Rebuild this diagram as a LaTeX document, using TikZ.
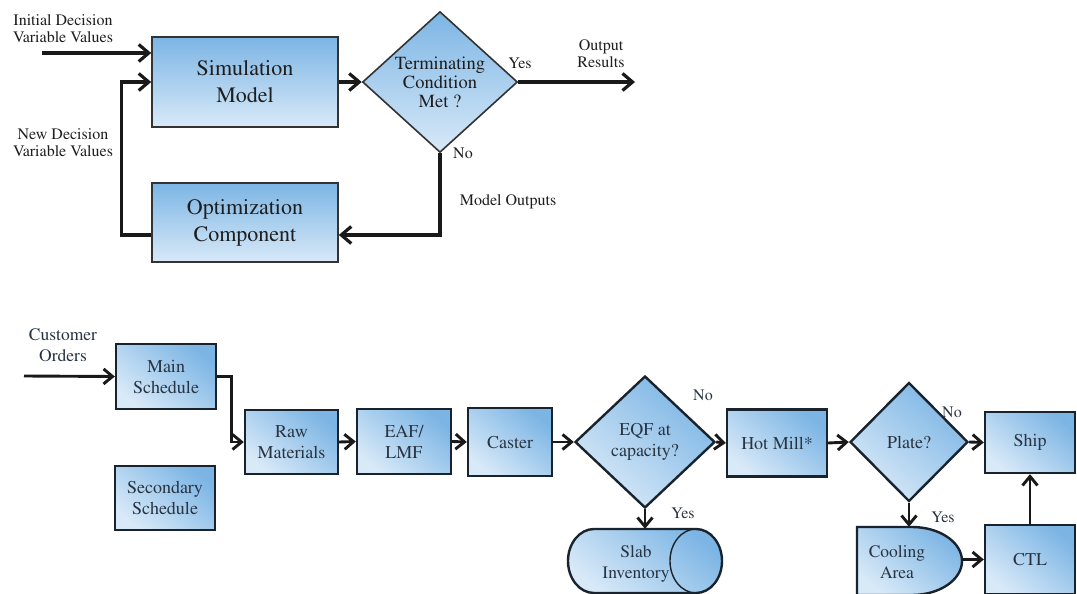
\documentclass[tikz,border=0pt]{standalone}
\usepackage[T1]{fontenc}
\usepackage{mathptmx}
\usetikzlibrary{arrows.meta,shapes.geometric}
\definecolor{btop}{RGB}{124,181,228}
\definecolor{bbot}{RGB}{216,233,248}
\definecolor{txtA}{RGB}{30,30,30}
\definecolor{txtB}{RGB}{40,52,66}
\definecolor{edgeB}{RGB}{25,35,45}
\tikzset{
  arr/.style={draw=black!90, line width=3.2pt, -{Straight Barb[length=10pt,width=17pt]}},
  barr/.style={draw=black!90, line width=2.9pt, -{Straight Barb[length=9pt,width=15pt]}},
  topbox/.style={draw=black!80, line width=1.6pt, top color=btop, bottom color=bbot, minimum width=186pt, minimum height=90pt, align=center, text=txtA, font=\rmfamily\fontsize{22}{27}\selectfont},
  topdia/.style={diamond, draw=black!80, line width=1.6pt, top color=btop, bottom color=bbot, minimum width=155pt, minimum height=122pt, inner sep=0pt, align=center, text=txtA, font=\rmfamily\fontsize{18.5}{19}\selectfont},
  toplab/.style={align=center, text=txtA, font=\rmfamily\fontsize{16}{17}\selectfont},
  botbox/.style={draw=edgeB, line width=2.4pt, top color=btop, bottom color=bbot, shading angle=-40, align=center, text=txtB, font=\rmfamily\fontsize{18}{21}\selectfont},
  botdia/.style={diamond, draw=edgeB, line width=2.4pt, top color=btop, bottom color=bbot, shading angle=-40, inner sep=0pt, align=center, text=txtB, font=\rmfamily\fontsize{18}{21}\selectfont},
  botlab/.style={align=center, text=txtB, font=\rmfamily\fontsize{17.5}{21}\selectfont},
  yn/.style={text=txtB, font=\rmfamily\fontsize{16}{17}\selectfont},
}
\begin{document}
\begin{tikzpicture}[x=1pt,y=-1pt]
\useasboundingbox[fill=white] (0,0) rectangle (1077,594);
% ---------- top ----------
\node[topbox] (sim) at (245,82) {Simulation\\Model};
\node[topbox, minimum height=79pt] (opt) at (245,222.5) {Optimization\\Component};
\node[topdia] (term) at (440,82) {Terminating\\Condition\\Met ?};
\node[toplab] (linit) at (63,29) {Initial Decision\\Variable Values};
\node[toplab] (lnew) at (63,143) {New Decision\\Variable Values};
\node[toplab] (lout) at (601,54) {Output\\Results};
\node[toplab] (lyes) at (520,63) {Yes};
\node[toplab] (lno) at (463,153) {No};
\node[toplab] (lmo) at (508,202) {Model Outputs};
\coordinate (init) at (42,53);
\coordinate (outend) at (635,82);
\draw[arr] (init) -- (init -| sim.west);
\draw[arr] ([yshift=-12.5pt]opt.west) -- ++(-30,0) |- (sim.west);
\draw[arr] (sim.east) -- (term.west);
\draw[arr] (term.east) -- (outend);
\draw[arr] (term.south) |- ([yshift=-12.5pt]opt.east);
% ---------- bottom ----------
\node[botbox, minimum width=100pt, minimum height=65pt] (main) at (166,376.5) {Main\\Schedule};
\node[botbox, minimum width=100pt, minimum height=64pt] (sec) at (165,498) {Secondary\\Schedule};
\node[botbox, minimum width=93pt, minimum height=64pt] (raw) at (291.5,442) {Raw\\Materials};
\node[botbox, minimum width=94pt, minimum height=65pt] (eaf) at (404,441.5) {EAF/\\LMF};
\node[botbox, minimum width=84pt, minimum height=68pt] (cast) at (510,442) {Caster};
\node[botdia, minimum width=140pt, minimum height=132pt] (eqf) at (645,442) {EQF at\\capacity?};
\node[botbox, minimum width=100pt, minimum height=67pt] (hot) at (777,443) {Hot Mill*};
\node[botdia, minimum width=118pt, minimum height=119pt] (plate) at (909,442) {Plate?};
\node[botbox, minimum width=90pt, minimum height=61pt] (ship) at (1030,442.5) {Ship};
\node[botbox, minimum width=90pt, minimum height=69pt] (ctl) at (1030,559.5) {CTL};
% slab inventory (horizontal cylinder)
\path[draw=edgeB, line width=2.4pt, top color=btop, bottom color=bbot, shading angle=-40]
  (594,529) -- (696,529) arc[start angle=-90,end angle=90,x radius=26,y radius=32]
  -- (594,593) arc[start angle=90,end angle=270,x radius=26,y radius=32] -- cycle;
\draw[edgeB, line width=1.4pt] (696,529) arc[start angle=270,end angle=90,x radius=26,y radius=32];
\node[botlab, minimum width=154pt, minimum height=64pt, inner sep=0pt] (slab) at (645,561) {};
\node[botlab] (slabt) at (636,564) {Slab\\Inventory};
% cooling area
\path[draw=edgeB, line width=2.4pt, top color=btop, bottom color=bbot, shading angle=-40]
  (857,527) -- (912,527) arc[start angle=-90,end angle=90,x radius=50,y radius=34]
  -- (857,595) -- cycle;
\node[botlab, minimum width=105pt, minimum height=67pt, inner sep=0pt] (cool) at (909.5,560.5) {};
\node[botlab] (coolt) at (897,562.5) {Cooling\\Area};
% labels
\node[botlab] (lcust) at (63,345.5) {Customer\\Orders};
\node[yn] (n1) at (703,395) {No};
\node[yn] (y1) at (683,513) {Yes};
\node[yn] (n2) at (952,412) {No};
\node[yn] (y2) at (943,517) {Yes};
\coordinate (cust) at (24,376);
% connectors
\draw[barr] (cust) -- (main.west);
\draw[barr] (main.east) -- ++(14,0) |- (raw.west);
\draw[barr] (raw.east) -- (eaf.west);
\draw[barr] (eaf.east) -- (cast.west);
\draw[barr] (cast.east) -- (eqf.west);
\draw[barr] (eqf.east) -- (hot.west);
\draw[barr] (eqf.south) -- (slab.north);
\draw[barr] (hot.east) -- (plate.west);
\draw[barr] (plate.east) -- (ship.west);
\draw[barr] (plate.south) -- (cool.north -| plate.south);
\draw[barr] (cool.east |- ctl.west) -- (ctl.west);
\draw[barr] (ctl.north) -- (ship.south);
\end{tikzpicture}
\end{document}
